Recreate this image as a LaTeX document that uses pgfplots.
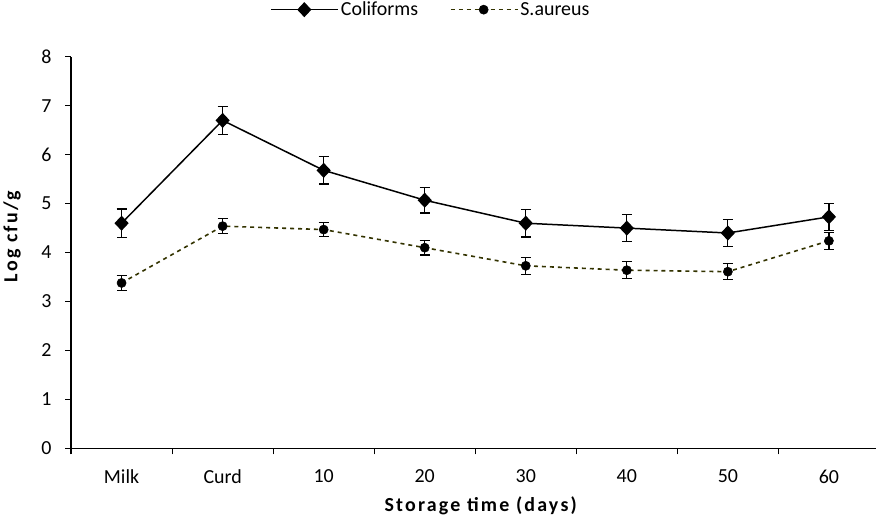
\documentclass[border=0pt]{standalone}
\usepackage{pgfplots}
\pgfplotsset{compat=1.18}
\usepackage{fontspec}
\setmainfont{Carlito}
\definecolor{olive}{RGB}{51,51,0}

\begin{document}
\begin{tikzpicture}
\begin{axis}[
    scale only axis,
    width=808pt, height=393pt,
    xmin=-0.5, xmax=7.47,
    ymin=0, ymax=8,
    axis x line*=bottom, axis y line*=left,
    axis line style={line width=1.2pt, -},
    xtick=data,
    xticklabels={Milk, Curd, 10, 20, 30, 40, 50, 60},
    major x tick style={draw=none},
    minor xtick={-0.5,0.5,...,7.5},
    minor tick length=6pt,
    minor x tick style={line width=1.2pt, black},
    ytick={0,1,...,8},
    major tick length=6pt,
    tick align=outside,
    y tick style={line width=1.2pt, black},
    tick label style={font=\fontsize{20}{22}\selectfont},
    xticklabel style={yshift=-12pt},
    yticklabel style={xshift=-10pt},
    /pgf/number format/assume math mode=true,
    xlabel={Storage time (days)},
    ylabel={Log cfu/g},
    label style={font=\fontsize{20}{22}\selectfont\bfseries\addfontfeature{LetterSpace=11}},
    xlabel style={inner ysep=14pt, yshift=5pt, xshift=7pt},
    ylabel style={yshift=14pt, xshift=16pt},
    legend columns=2,
    legend style={draw=none, at={(0.447,1.095)}, anchor=south,
        font=\fontsize{20}{22}\selectfont, inner sep=0pt,
        /tikz/every even column/.append style={column sep=30pt}},
    legend image code/.code={
        \draw[#1, mark repeat=2, mark phase=2] plot coordinates {(0pt,0pt) (33pt,0pt) (67pt,0pt)};},
    clip=false,
]
\addplot[black, line width=1.5pt, mark=diamond*, mark size=6.5pt,
    mark options={xscale=1.25},
    error bars/.cd, y dir=both, y explicit,
    error bar style={line width=1.2pt, black},
    error mark options={rotate=90, mark size=5pt, line width=1.2pt, black}]
    coordinates {
    (0,4.60) +- (0,0.29)
    (1,6.70) +- (0,0.29)
    (2,5.68) +- (0,0.28)
    (3,5.07) +- (0,0.26)
    (4,4.60) +- (0,0.28)
    (5,4.50) +- (0,0.28)
    (6,4.40) +- (0,0.28)
    (7,4.73) +- (0,0.28)
    };
\addlegendentry{Coliforms}
\addplot[olive, line width=1.6pt, dash pattern=on 4pt off 4pt,
    mark=*, mark size=4.6pt, mark options={solid, black, fill=black, line width=0.5pt},
    error bars/.cd, y dir=both, y explicit,
    error bar style={line width=1.2pt, black, solid},
    error mark options={rotate=90, mark size=5pt, line width=1.2pt, black, solid}]
    coordinates {
    (0,3.38) +- (0,0.16)
    (1,4.54) +- (0,0.15)
    (2,4.47) +- (0,0.14)
    (3,4.10) +- (0,0.15)
    (4,3.73) +- (0,0.17)
    (5,3.64) +- (0,0.17)
    (6,3.61) +- (0,0.16)
    (7,4.24) +- (0,0.17)
    };
\addlegendentry{S.aureus}
\end{axis}
\end{tikzpicture}
\end{document}
